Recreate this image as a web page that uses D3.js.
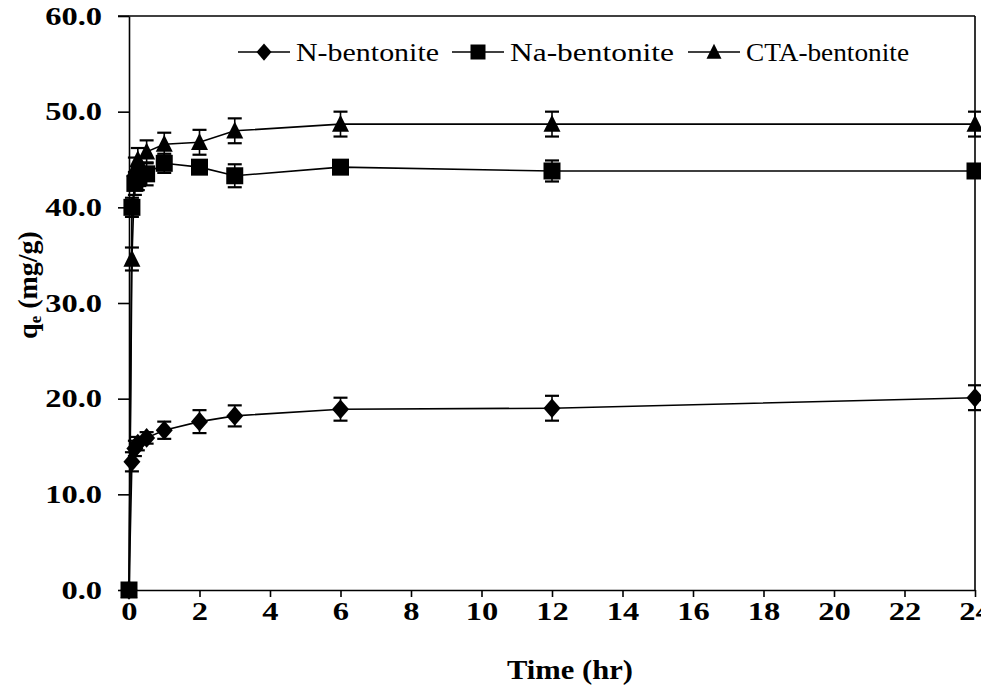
<!DOCTYPE html>
<html>
<head>
<meta charset="utf-8">
<script src="https://cdn.jsdelivr.net/npm/d3@7"></script>
<style>
  body { margin: 0; background: #fff; }
  text { font-family: "Liberation Serif", "Times New Roman", serif; }
</style>
</head>
<body>
<div id="chart-area"></div>
<script>
// time points (hr)
var times = [0, 0.083, 0.167, 0.25, 0.5, 1, 2, 3, 6, 12, 24];

// qe values (mg/g)
var nBentonite   = [0, 13.4, 14.8, 15.3, 15.9, 16.7, 17.6, 18.2, 18.9, 19.0, 20.1];
var nErr         = [0, 1.0, 0.8, 0.7, 0.6, 0.9, 1.2, 1.1, 1.2, 1.3, 1.3];
var naBentonite  = [0, 40.0, 42.5, 43.0, 43.5, 44.6, 44.2, 43.3, 44.2, 43.8, 43.8];
var naErr        = [0, 1.0, 1.2, 1.2, 1.2, 1.0, 0.6, 1.2, 0.6, 1.1, 0.6];
var ctaBentonite = [0, 34.6, 44.0, 45.0, 45.8, 46.6, 46.8, 48.0, 48.7, 48.7, 48.7];
var ctaErr       = [0, 1.2, 1.2, 1.2, 1.2, 1.2, 1.3, 1.3, 1.3, 1.3, 1.3];

var seriesNames = ["N-bentonite", "Na-bentonite", "CTA-bentonite"];
var yTicks = [0, 10, 20, 30, 40, 50, 60];
var xTicks = [0, 2, 4, 6, 8, 10, 12, 14, 16, 18, 20, 22, 24];

var series = [
  { name: seriesNames[0], shape: "diamond",  values: nBentonite,   err: nErr },
  { name: seriesNames[1], shape: "square",   values: naBentonite,  err: naErr },
  { name: seriesNames[2], shape: "triangle", values: ctaBentonite, err: ctaErr }
];

var margin = { left: 129, right: 6, top: 16, bottom: 103 };
var width = 981 - margin.left - margin.right;
var height = 693 - margin.top - margin.bottom;
var stretch = 1.3;   // the original lettering is wide

var svg = d3.select("#chart-area").append("svg")
    .attr("width", 981)
    .attr("height", 693);
var g = svg.append("g")
    .attr("transform", "translate(" + margin.left + "," + margin.top + ")");

var x = d3.scaleLinear().domain([0, 24]).range([0, width]);
var y = d3.scaleLinear().domain([0, 60]).range([height, 0]);

// marker shapes
function markerPath(shape, s) {
  var h = s / 2;
  if (shape === "square") return "M" + (-h) + "," + (-h) + "H" + h + "V" + h + "H" + (-h) + "Z";
  if (shape === "diamond") return "M0," + (-h * 1.15) + "L" + h + ",0L0," + (h * 1.15) + "L" + (-h) + ",0Z";
  return "M0," + (-h * 1.1) + "L" + (h * 1.0) + "," + (h * 0.9) + "L" + (-h * 1.0) + "," + (h * 0.9) + "Z";
}

// axes
var xAxisCall = d3.axisBottom(x).tickValues(xTicks).tickSize(7).tickSizeOuter(0).tickPadding(5)
    .tickFormat(d3.format("d"));
var yAxisCall = d3.axisLeft(y).tickValues(yTicks).tickSize(11).tickSizeOuter(0).tickPadding(16)
    .tickFormat(d3.format(".1f"));

var xAxis = g.append("g").attr("transform", "translate(0," + height + ")").call(xAxisCall);
var yAxis = g.append("g").call(yAxisCall);

[xAxis, yAxis].forEach(function(a) {
  a.selectAll("path, line").attr("stroke", "#000").attr("stroke-width", 1.6);
  a.selectAll("text")
    .attr("fill", "#000")
    .attr("font-family", "Liberation Serif")
    .attr("font-weight", "bold")
    .attr("font-size", "25px");
});
xAxis.selectAll("text").attr("transform", "scale(" + stretch + ",1)");
yAxis.selectAll("text")
  .attr("x", -27 / stretch)
  .attr("transform", "scale(" + stretch + ",1)");

// frame top & right
g.append("line").attr("x1", -11).attr("x2", width).attr("y1", 0).attr("y2", 0)
  .attr("stroke", "#000").attr("stroke-width", 1.6);
g.append("line").attr("x1", width).attr("x2", width).attr("y1", 0).attr("y2", height)
  .attr("stroke", "#000").attr("stroke-width", 1.6);

// lines
var line = d3.line()
  .x(function(d) { return x(d.t); })
  .y(function(d) { return y(d.v); });

series.forEach(function(s) {
  var pts = times.map(function(t, i) { return { t: t, v: s.values[i], e: s.err[i] }; });

  g.append("path")
    .datum(pts)
    .attr("fill", "none")
    .attr("stroke", "#000")
    .attr("stroke-width", 1.6)
    .attr("d", line);

  // error bars
  var eb = g.selectAll(".eb-" + s.shape).data(pts.filter(function(d) { return d.e > 0; }))
    .enter().append("g")
    .attr("class", "eb-" + s.shape)
    .attr("stroke", "#000").attr("stroke-width", 1.6);
  eb.append("line")
    .attr("x1", function(d) { return x(d.t); }).attr("x2", function(d) { return x(d.t); })
    .attr("y1", function(d) { return y(d.v + d.e); }).attr("y2", function(d) { return y(d.v - d.e); });
  eb.append("line")
    .attr("x1", function(d) { return x(d.t) - 7; }).attr("x2", function(d) { return x(d.t) + 7; })
    .attr("y1", function(d) { return y(d.v + d.e); }).attr("y2", function(d) { return y(d.v + d.e); })
    .attr("stroke-width", 2.2);
  eb.append("line")
    .attr("x1", function(d) { return x(d.t) - 7; }).attr("x2", function(d) { return x(d.t) + 7; })
    .attr("y1", function(d) { return y(d.v - d.e); }).attr("y2", function(d) { return y(d.v - d.e); })
    .attr("stroke-width", 2.2);

  // markers
  g.selectAll(".mk-" + s.shape).data(pts).enter().append("path")
    .attr("class", "mk-" + s.shape)
    .attr("transform", function(d) { return "translate(" + x(d.t) + "," + y(d.v) + ")"; })
    .attr("d", markerPath(s.shape, 17))
    .attr("fill", "#000");
});

// legend
var legendX = [238, 452, 688];
var legendLen = [143, 164, 163];
var legend = svg.append("g");
series.forEach(function(s, i) {
  var lg = legend.append("g").attr("transform", "translate(" + legendX[i] + ",52)");
  lg.append("line").attr("x1", 0).attr("x2", 52).attr("y1", 0).attr("y2", 0)
    .attr("stroke", "#000").attr("stroke-width", 1.6);
  lg.append("path").attr("transform", "translate(26,0)")
    .attr("d", markerPath(s.shape, 15)).attr("fill", "#000");
  lg.append("text").attr("x", 58).attr("y", 9)
    .attr("font-size", "25px")
    .attr("textLength", legendLen[i])
    .attr("lengthAdjust", "spacingAndGlyphs")
    .text(s.name);
});

// axis titles
svg.append("text")
  .attr("x", 570).attr("y", 679)
  .attr("text-anchor", "middle")
  .attr("font-weight", "bold")
  .attr("font-size", "27px")
  .attr("textLength", 126)
  .attr("lengthAdjust", "spacingAndGlyphs")
  .text("Time (hr)");

var yl = svg.append("text")
  .attr("transform", "translate(37,285) rotate(-90)")
  .attr("text-anchor", "middle")
  .attr("font-weight", "bold")
  .attr("font-size", "28px");
yl.append("tspan").text("q");
yl.append("tspan").attr("font-size", "17px").attr("dy", 4).text("e");
yl.append("tspan").attr("dy", -4).text(" (mg/g)");
</script>
</body>
</html>
